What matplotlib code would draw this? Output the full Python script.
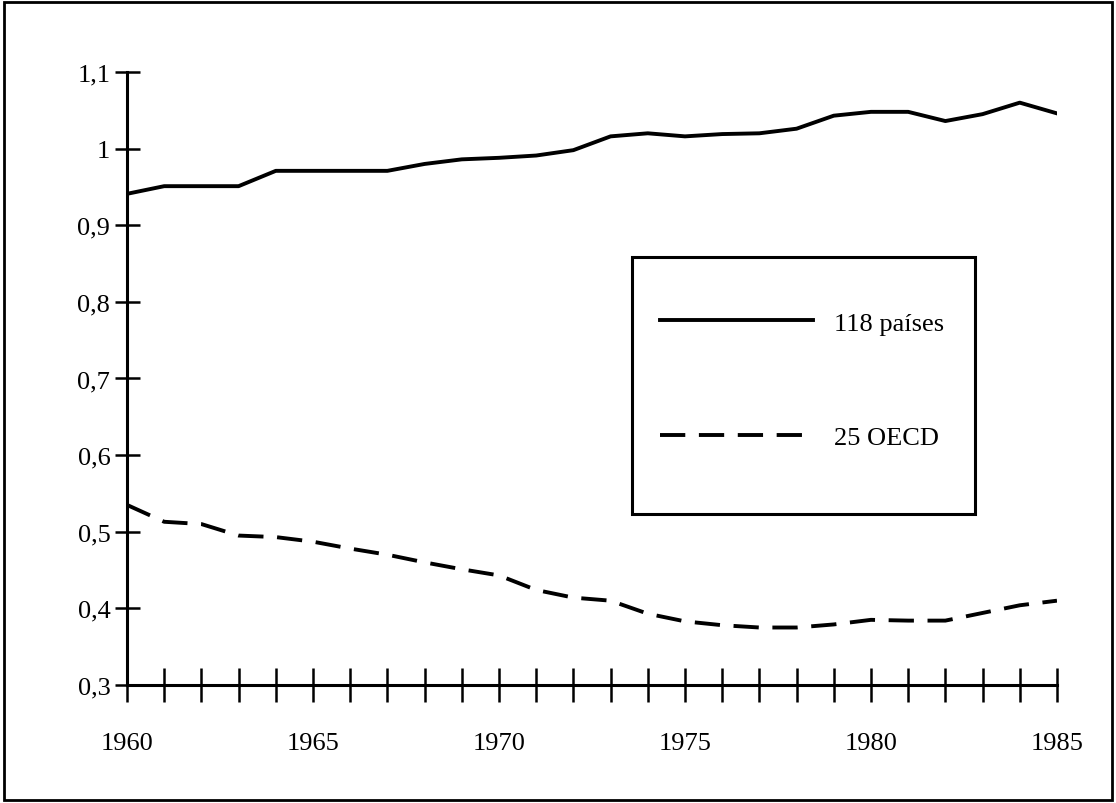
import matplotlib
matplotlib.use("Agg")
import matplotlib.pyplot as plt
from matplotlib.patches import Rectangle

years = list(range(1960, 1986))
paises_118 = [0.941, 0.951, 0.951, 0.951, 0.971, 0.971, 0.971, 0.971, 0.980, 0.986,
              0.988, 0.991, 0.998, 1.016, 1.020, 1.016, 1.019, 1.020, 1.026, 1.043,
              1.048, 1.048, 1.036, 1.045, 1.060, 1.046]
oecd_25 = [0.535, 0.513, 0.510, 0.495, 0.493, 0.487, 0.478, 0.470, 0.460, 0.451,
           0.443, 0.424, 0.414, 0.410, 0.393, 0.383, 0.378, 0.375, 0.375, 0.379,
           0.385, 0.384, 0.384, 0.394, 0.404, 0.410]
yticks = [0.3, 0.4, 0.5, 0.6, 0.7, 0.8, 0.9, 1.0, 1.1]
ytick_labels = ["0,3", "0,4", "0,5", "0,6", "0,7", "0,8", "0,9", "1", "1,1"]

plt.rcParams["font.family"] = ["Liberation Serif", "DejaVu Serif"]

fig = plt.figure(figsize=(11.16, 8.04), dpi=100)
ax = fig.add_axes([0.1138, 0.1468, 0.8333, 0.7624])

ax.plot(years, paises_118, color="black", lw=2.8, label="118 países")
ax.plot(years, oecd_25, color="black", lw=2.8, dashes=(6.5, 3.5), label="25 OECD")

ax.set_xlim(1960, 1985)
ax.set_ylim(0.3, 1.1)
ax.set_xticks(years)
ax.set_xticklabels([str(y) if y % 5 == 0 else "" for y in years])
ax.set_yticks(yticks)
ax.set_yticklabels(ytick_labels)
ax.tick_params(axis="x", direction="inout", length=24, width=1.8, pad=22, labelsize=19)
ax.tick_params(axis="y", direction="inout", length=18, width=1.8, pad=3, labelsize=19)

for s in ["top", "right"]:
    ax.spines[s].set_visible(False)
for s in ["left", "bottom"]:
    ax.spines[s].set_linewidth(2.2)

# legend box
ax.add_patch(Rectangle((0.543, 0.279), 0.369, 0.419, transform=ax.transAxes,
                       fill=False, lw=2.2, edgecolor="black", clip_on=False))
ax.legend(loc="upper left", bbox_to_anchor=(0.573, 0.61), frameon=False,
          fontsize=19, handlelength=5.8, handletextpad=0.8, labelspacing=3.45,
          borderpad=0, borderaxespad=0)

# outer border of the figure
fig.patches.append(Rectangle((0.004, 0.004), 0.992, 0.992, transform=fig.transFigure,
                             fill=False, lw=2.0, edgecolor="black"))

fig.savefig("out.png", dpi=100)
